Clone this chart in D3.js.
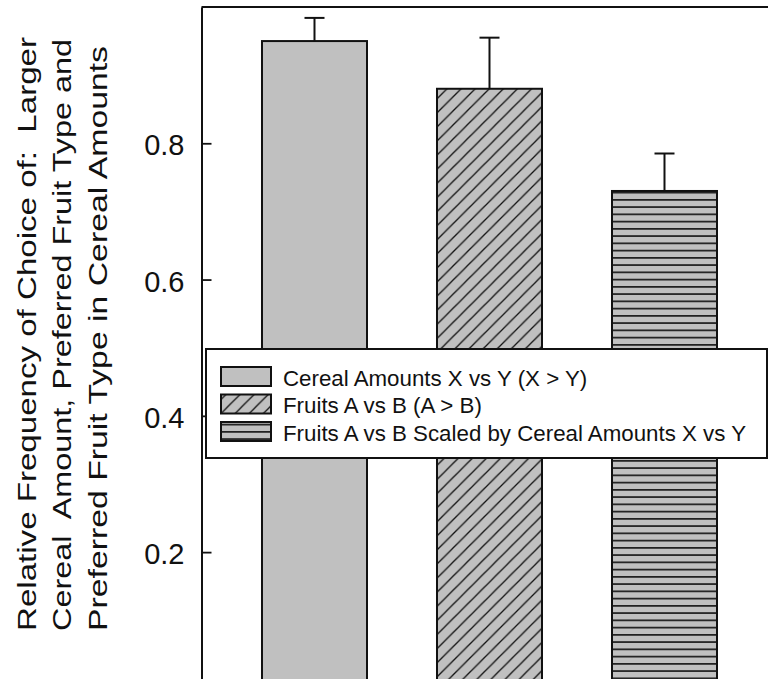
<!DOCTYPE html>
<html>
<head>
<meta charset="utf-8">
<script src="https://cdn.jsdelivr.net/npm/d3@7"></script>
<style>
  html, body { margin: 0; padding: 0; background: #fff; }
  svg { display: block; font-family: "Liberation Sans", Arial, sans-serif; }
  text { white-space: pre; }
</style>
</head>
<body>
<svg id="chart" width="768" height="679"></svg>
<script>
// ---- data ----
const categories = ["Cereal Amounts X vs Y (X > Y)", "Fruits A vs B (A > B)", "Fruits A vs B Scaled by Cereal Amounts X vs Y"];
const means = [0.950, 0.880, 0.730];
const errorTops = [0.984, 0.955, 0.785];
const patterns = ["solid", "diag", "horiz"];
const yTicks = [0.2, 0.4, 0.6, 0.8];
const titleLines = [
  "Relative Frequency of Choice of:  Larger",
  "Cereal  Amount, Preferred Fruit Type and",
  "Preferred Fruit Type in Cereal Amounts"
];

const svg = d3.select("#chart");
const fillGrey = "#c0c0c0";
const ink = "#111";

// ---- patterns ----
const defs = svg.append("defs");
const pd = defs.append("pattern").attr("id", "diag").attr("patternUnits", "userSpaceOnUse")
  .attr("width", 14.1).attr("height", 14.1);
pd.append("rect").attr("width", 14.1).attr("height", 14.1).attr("fill", fillGrey);
pd.append("path").attr("d", "M0,14.1 L14.1,0 M-3.5,3.5 L3.5,-3.5 M10.6,17.6 L17.6,10.6")
  .attr("stroke", ink).attr("stroke-width", 1.3);
const ph = defs.append("pattern").attr("id", "horiz").attr("patternUnits", "userSpaceOnUse")
  .attr("width", 10).attr("height", 7.25).attr("y", 0.5);
ph.append("rect").attr("width", 10).attr("height", 7.25).attr("fill", fillGrey);
ph.append("line").attr("x1", 0).attr("x2", 10).attr("y1", 3.6).attr("y2", 3.6)
  .attr("stroke", ink).attr("stroke-width", 1.6);
const fillFor = p => p === "solid" ? fillGrey : `url(#${p})`;

// ---- scales ----
const y = d3.scaleLinear().domain([0, 1]).range([688.4, 7]);
const step = 175, pIn = 0.4, pOut = 0.3457, x0 = 201.5;
const x = d3.scaleBand().domain(categories)
  .range([x0, x0 + step * (categories.length - pIn + 2 * pOut)])
  .paddingInner(pIn).paddingOuter(pOut);

// ---- frame top ----
svg.append("line").attr("x1", x0).attr("x2", x.range()[1]).attr("y1", y(1)).attr("y2", y(1))
  .attr("stroke", ink).attr("stroke-width", 2);

// ---- bars ----
const bars = svg.append("g");
bars.selectAll("rect").data(categories).join("rect")
  .attr("x", d => x(d)).attr("width", x.bandwidth())
  .attr("y", (d, i) => y(means[i])).attr("height", (d, i) => y(0) - y(means[i]))
  .attr("fill", (d, i) => fillFor(patterns[i]))
  .attr("stroke", ink).attr("stroke-width", 2);

// ---- error bars ----
const eb = svg.append("g").attr("stroke", ink).attr("stroke-width", 2);
categories.forEach((c, i) => {
  const cx = x(c) + x.bandwidth() / 2;
  eb.append("line").attr("x1", cx).attr("x2", cx).attr("y1", y(means[i])).attr("y2", y(errorTops[i]));
  eb.append("line").attr("x1", cx - 10).attr("x2", cx + 10).attr("y1", y(errorTops[i])).attr("y2", y(errorTops[i]));
});

// ---- y axis ----
const axis = d3.axisLeft(y).tickValues(yTicks).tickFormat(d3.format(".1f"))
  .tickSizeInner(-10).tickSizeOuter(0).tickPadding(17);
const ag = svg.append("g").attr("transform", `translate(${x0},0)`).call(axis);
ag.select(".domain").attr("stroke", ink).attr("stroke-width", 2);
ag.selectAll(".tick line").attr("stroke", ink).attr("stroke-width", 1.8);
ag.selectAll(".tick text").attr("font-size", 29).attr("fill", ink)
  .attr("font-family", "'Liberation Sans', Arial, sans-serif").attr("dy", "0.4em");

// ---- y title ----
const baseX = [35.7, 71.3, 107];
const lineLen = [594, 592, 585];
svg.append("g").selectAll("text").data(titleLines).join("text")
  .attr("transform", (d, i) => `translate(${baseX[i]},631) rotate(-90)`)
  .attr("text-anchor", "start").attr("font-size", 26.5).attr("fill", ink)
  .attr("xml:space", "preserve")
  .attr("textLength", (d, i) => lineLen[i]).attr("lengthAdjust", "spacingAndGlyphs")
  .text(d => d);

// ---- legend ----
const lg = svg.append("g");
lg.append("rect").attr("x", 206).attr("y", 349).attr("width", 561).attr("height", 109)
  .attr("fill", "#fff").attr("stroke", ink).attr("stroke-width", 2);
const rowY = d3.scalePoint().domain(categories).range([367, 422]);
const rows = lg.selectAll("g.row").data(categories).join("g").attr("class", "row");
rows.append("rect").attr("x", 221).attr("width", 50).attr("height", 19)
  .attr("y", d => rowY(d)).attr("fill", (d, i) => fillFor(patterns[i]))
  .attr("stroke", ink).attr("stroke-width", 2);
rows.append("text").attr("x", 283).attr("y", d => rowY(d) + 18.5)
  .attr("font-size", 22.3).attr("fill", ink).text(d => d);
</script>
</body>
</html>
